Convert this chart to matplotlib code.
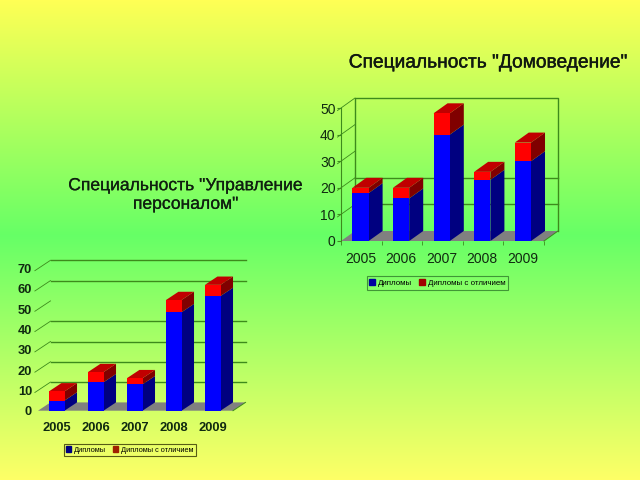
import numpy as np
import matplotlib
matplotlib.use('Agg')
import matplotlib.pyplot as plt
import matplotlib.patheffects as pe

plt.rcParams['font.family'] = ['Liberation Sans', 'DejaVu Sans']

years = ['2005', '2006', '2007', '2008', '2009']
legend_labels = ['Дипломы', 'Дипломы с отличием']

dom_title = 'Специальность "Домоведение"'
dom_plain = [18, 16, 40, 23, 30]
dom_honors = [2, 4, 8, 3, 7]
dom_ticks = [0, 10, 20, 30, 40, 50]
dom_grid = [10, 20]

upr_title = 'Специальность "Управление\nперсоналом"'
upr_plain = [5, 14, 13, 48.5, 56.5]
upr_honors = [4.5, 5, 3, 6, 5.5]
upr_ticks = [0, 10, 20, 30, 40, 50, 60, 70]
upr_grid = [10, 20, 30, 40, 60, 70]

W, H = 640, 480
LINE = '#3d8a1c'


def px_axes(fig, left, right, y0, ytop):
    ax = fig.add_axes([left / W, 1 - y0 / H, (right - left) / W, (y0 - ytop) / H])
    ax.patch.set_visible(False)
    for s in ax.spines.values():
        s.set_visible(False)
    return ax


def box3d(ax, x, w, y0, y1, dx, dy, side, top=None):
    ax.fill([x + w, x + w + dx, x + w + dx, x + w],
            [y0, y0 + dy, y1 + dy, y1], color=side, lw=0, clip_on=False, zorder=4)
    if top is not None:
        ax.fill([x, x + dx, x + w + dx, x + w],
                [y1, y1 + dy, y1 + dy, y1], color=top, lw=0, clip_on=False, zorder=4)


def chart(ax, plain, honors, ticks, grid, dx, dy, ymax, box):
    ax.set_xlim(0, 5)
    ax.set_ylim(0, ymax)
    # floor
    ax.fill([0, dx, 5 + dx, 5], [0, dy, dy, 0], color='#808080', lw=0, clip_on=False, zorder=1)
    # back wall lines
    for g in grid:
        ax.plot([dx, 5 + dx], [g + dy, g + dy], color=LINE, lw=1, clip_on=False, zorder=2)
    for t in ticks[1:]:
        ax.plot([-0.25 * dx, dx], [t - 0.25 * dy, t + dy], color=LINE, lw=0.6,
                clip_on=False, zorder=2)
    if box:
        ax.plot([dx, dx, 5 + dx, 5 + dx], [dy, ymax + dy, ymax + dy, dy],
                color=LINE, lw=1, clip_on=False, zorder=2)
    ax.plot([5, 5 + dx], [0, dy], color=LINE, lw=0.7, clip_on=False, zorder=2)

    w = 0.4
    pos = np.arange(5) + 0.48
    ax.bar(pos, plain, w, color='#0000ff', zorder=5, clip_on=False, label=legend_labels[0])
    ax.bar(pos, honors, w, bottom=plain, color='#ff0000', zorder=5, clip_on=False,
           label=legend_labels[1])
    for i in range(5):
        x = pos[i] - w / 2
        box3d(ax, x, w, 0, plain[i], dx, dy, '#000080')
        box3d(ax, x, w, plain[i], plain[i] + honors[i], dx, dy, '#800000', '#c00000')

    ax.set_xticks(pos)
    ax.set_xticklabels(years)
    ax.set_yticks(ticks)


fig = plt.figure(figsize=(6.4, 4.8), dpi=100)

# background gradient
bg = fig.add_axes([0, 0, 1, 1], zorder=-1)
stops_y = [0, 235, 480]
stops_r = [255, 102, 255]
stops_b = [85, 102, 102]
yy = np.arange(H)
r = np.interp(yy, stops_y, stops_r)
b = np.interp(yy, stops_y, stops_b)
g = np.full(H, 255.0)
img = np.stack([r, g, b], axis=1)[:, None, :] / 255
bg.imshow(img, aspect='auto', extent=[0, W, H, 0])
bg.axis('off')

# top right chart
ax1 = px_axes(fig, 341, 544, 241, 108)
chart(ax1, dom_plain, dom_honors, dom_ticks, dom_grid, 14 / 40.6, 10 / 2.66, 50, True)
ax1.spines['left'].set_visible(True)
ax1.spines['left'].set_color(LINE)
ax1.tick_params(axis='y', length=3, color=LINE, labelsize=10, pad=1, labelcolor='#102a10')
ax1.tick_params(axis='x', length=0, labelsize=10, pad=8, labelcolor='#102a10')
ax1.set_xticks(np.arange(6), minor=True)
ax1.tick_params(axis='x', which='minor', length=3, color=LINE)
t1 = fig.text(488 / W, 1 - 63 / H, dom_title, ha='center', va='center', fontsize=13.8,
              color='#101810')
t1.set_path_effects([pe.withStroke(linewidth=0.3, foreground='#101810')])
leg1 = ax1.legend(loc='center', bbox_to_anchor=(437.5 / W, 1 - 283 / H),
                  bbox_transform=fig.transFigure, ncol=2, fontsize=5.7, frameon=True,
                  handlelength=0.7, handleheight=0.7, handletextpad=0.4, columnspacing=0.9,
                  borderpad=0.35, fancybox=False, facecolor='none', edgecolor='#2f7d2a')
for h, c in zip(leg1.legend_handles, ['#0000a0', '#a00000']):
    h.set_color(c)
leg1.get_frame().set_linewidth(0.8)

# bottom left chart
ax2 = px_axes(fig, 38, 233, 410.7, 268.6)
chart(ax2, upr_plain, upr_honors, upr_ticks, upr_grid, 12.5 / 39, 8.3 / 2.03, 70, False)
ax2.tick_params(axis='y', length=0, labelsize=9.3, pad=4.3, labelcolor='#102a10')
ax2.tick_params(axis='x', length=0, labelsize=9.3, pad=8, labelcolor='#102a10')
for t in ax2.get_xticklabels() + ax2.get_yticklabels():
    t.set_fontweight('bold')
t2 = fig.text(186 / W, 1 - 195 / H, upr_title, ha='center', va='center', fontsize=12.6,
              color='#102010', linespacing=1.3)
t2.set_path_effects([pe.withStroke(linewidth=0.15, foreground='#102010')])
leg2 = ax2.legend(loc='center', bbox_to_anchor=(130 / W, 1 - 450 / H),
                  bbox_transform=fig.transFigure, ncol=2, fontsize=5.35, frameon=True,
                  handlelength=0.7, handleheight=0.7, handletextpad=0.4, columnspacing=0.9,
                  borderpad=0.35, fancybox=False, facecolor='none', edgecolor='#333300')
for h, c in zip(leg2.legend_handles, ['#000080', '#a02000']):
    h.set_color(c)
leg2.get_frame().set_linewidth(0.8)

fig.savefig('out.png', dpi=100)
